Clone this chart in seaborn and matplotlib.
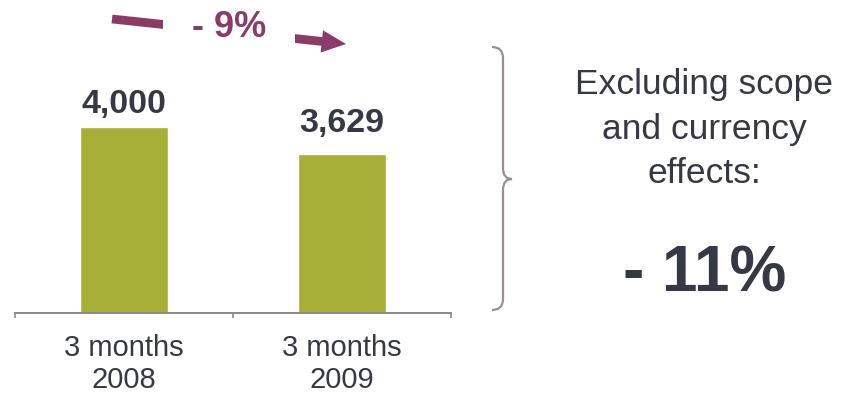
import matplotlib
matplotlib.use("Agg")
import matplotlib.pyplot as plt
import matplotlib.patches as mpatches
from matplotlib.path import Path
import seaborn as sns
import pandas as pd

# ---- data ----
periods = ["3 months\n2008", "3 months\n2009"]
sales = [4000, 3629]
value_labels = ["4,000", "3,629"]
change_label = "- 9%"
note_lines = ["Excluding scope", "and currency", "effects:"]
note_value = "- 11%"

# ---- style ----
BAR = "#a8af38"
TEXT = "#363845"
PURPLE = "#8a3b68"
BRACE = "#9a8e8e"
AXIS = "#8a8a8a"

sns.set_theme(style="white")
plt.rcParams["font.family"] = ["Liberation Sans", "DejaVu Sans"]

W, H = 847, 393
fig = plt.figure(figsize=(W / 100, H / 100), dpi=100)


def fx(px):
    return px / W


def fy(py):
    return 1 - py / H


# axes spans the baseline from x=15 to x=451 px
ax = fig.add_axes([fx(15), fy(313), (451 - 15) / W, (313 - 47) / H])

df = pd.DataFrame({"period": periods, "sales": sales})
sns.barplot(data=df, x="period", y="sales", color=BAR, width=0.4,
            saturation=1, ax=ax)

ax.set_xlim(-0.5, 1.5)
ax.set_ylim(1468, 5083)
ax.set_xlabel("")
ax.set_ylabel("")
ax.set_yticks([])
for side in ("left", "right", "top"):
    ax.spines[side].set_visible(False)
ax.spines["bottom"].set_color(AXIS)
ax.spines["bottom"].set_linewidth(1.4)

ax.set_xticks([0, 1])
ax.set_xticklabels(periods)
ax.set_xticks([-0.5, 0.5, 1.5], minor=True)
ax.tick_params(axis="x", which="major", length=0, pad=15,
               labelsize=21, labelcolor=TEXT)
ax.tick_params(axis="x", which="minor", bottom=True, direction="out",
               length=3.5, width=1.2, color=AXIS)

# value labels above the bars
offsets = [10, 16]
for i, (v, lab) in enumerate(zip(sales, value_labels)):
    ax.annotate(lab, xy=(i, v), xytext=(0, offsets[i]),
                textcoords="offset points", ha="center", va="baseline",
                fontsize=24.5, fontweight="bold", color=TEXT)

# change arrow across the top
fig.patches.append(mpatches.FancyArrowPatch(
    (fx(112), fy(19)), (fx(346), fy(44)), transform=fig.transFigure,
    arrowstyle="simple,head_length=1.0,head_width=0.92,tail_width=0.36",
    mutation_scale=17.5, color=PURPLE, shrinkA=0, shrinkB=0, lw=0))
fig.text(fx(229), fy(36.7), change_label, ha="center", va="baseline",
         fontsize=26, fontweight="bold", color=PURPLE,
         bbox=dict(boxstyle="square,pad=0.8", fc="white", ec="none"))

# curly brace
brace_pts = [(492, 47), (503, 47), (503, 58),
             (503, 168),
             (503, 179), (512, 179),
             (503, 179), (503, 190),
             (503, 299),
             (503, 310), (492, 310)]
codes = [Path.MOVETO, Path.CURVE3, Path.CURVE3,
         Path.LINETO,
         Path.CURVE3, Path.CURVE3,
         Path.CURVE3, Path.CURVE3,
         Path.LINETO,
         Path.CURVE3, Path.CURVE3]
brace = Path([(fx(x), fy(y)) for x, y in brace_pts], codes)
fig.patches.append(mpatches.PathPatch(brace, transform=fig.transFigure,
                                      fc="none", ec=BRACE, lw=1.6))

# note on the right
for line, base in zip(note_lines, [94, 138.5, 183]):
    fig.text(fx(704), fy(base), line, ha="center", va="baseline",
             fontsize=25.5, color=TEXT)
fig.text(fx(705), fy(291.5), note_value, ha="center", va="baseline",
         fontsize=46, fontweight="bold", color=TEXT)

fig.savefig("out.png", dpi=100)
